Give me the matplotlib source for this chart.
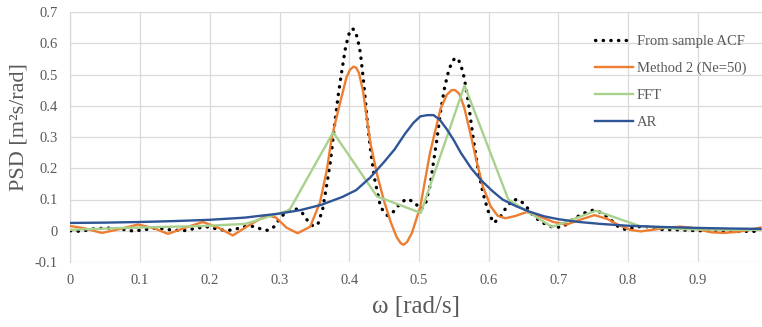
import matplotlib
matplotlib.use('Agg')
import matplotlib.pyplot as plt
import numpy as np

plt.rcParams['font.family'] = ['Liberation Serif', 'DejaVu Serif']

# From sample ACF (black dotted)
acf_w = [0.000, 0.015, 0.033, 0.052, 0.071, 0.090, 0.105, 0.124, 0.143, 0.162,
         0.176, 0.195, 0.210, 0.224, 0.238, 0.252, 0.264, 0.275, 0.284, 0.293,
         0.302, 0.314, 0.323, 0.333, 0.341, 0.348, 0.355, 0.362, 0.368, 0.373,
         0.378, 0.384, 0.390, 0.395, 0.400, 0.404, 0.408, 0.412, 0.416, 0.421,
         0.426, 0.431, 0.437, 0.445, 0.455, 0.464, 0.474, 0.483, 0.493, 0.503,
         0.510, 0.516, 0.521, 0.526, 0.531, 0.537, 0.543, 0.548, 0.552, 0.556,
         0.560, 0.565, 0.571, 0.578, 0.585, 0.592, 0.599, 0.607, 0.615, 0.624,
         0.635, 0.645, 0.655, 0.665, 0.678, 0.693, 0.707, 0.720, 0.735, 0.750,
         0.762, 0.773, 0.785, 0.797, 0.812, 0.827, 0.845, 0.870, 0.900, 0.930,
         0.960, 0.990]
acf_s = [0.000, -0.002, 0.006, 0.009, 0.006, -0.001, 0.003, 0.009, 0.003, 0.000,
         0.006, 0.013, 0.006, 0.000, 0.006, 0.014, 0.014, 0.004, 0.001, 0.014,
         0.045, 0.065, 0.071, 0.056, 0.030, 0.015, 0.020, 0.070, 0.150, 0.220,
         0.320, 0.430, 0.520, 0.590, 0.632, 0.647, 0.642, 0.615, 0.570, 0.470,
         0.350, 0.250, 0.160, 0.075, 0.048, 0.062, 0.090, 0.102, 0.092, 0.068,
         0.090, 0.145, 0.220, 0.295, 0.380, 0.460, 0.515, 0.542, 0.553, 0.550,
         0.532, 0.490, 0.410, 0.295, 0.195, 0.120, 0.065, 0.025, 0.038, 0.070,
         0.100, 0.098, 0.075, 0.045, 0.025, 0.010, 0.013, 0.035, 0.055, 0.066,
         0.058, 0.040, 0.015, 0.003, 0.013, 0.013, 0.004, 0.003, 0.000, 0.001,
         -0.002, -0.002]

# Method 2 (Ne=50)
m2_w = [0.000, 0.020, 0.045, 0.070, 0.097, 0.120, 0.140, 0.165, 0.190, 0.212,
        0.233, 0.258, 0.282, 0.295, 0.310, 0.326, 0.344, 0.358, 0.368, 0.375,
        0.387, 0.396, 0.401, 0.406, 0.410, 0.414, 0.420, 0.425, 0.430, 0.440,
        0.450, 0.460, 0.468, 0.474, 0.478, 0.483, 0.490, 0.502, 0.516, 0.531,
        0.540, 0.547, 0.552, 0.558, 0.565, 0.574, 0.583, 0.592, 0.603, 0.613,
        0.624, 0.638, 0.655, 0.674, 0.693, 0.712, 0.731, 0.752, 0.770, 0.785,
        0.803, 0.818, 0.835, 0.856, 0.875, 0.890, 0.905, 0.920, 0.937, 0.955,
        0.970, 0.990]
m2_s = [0.015, 0.008, -0.007, 0.005, 0.020, 0.008, -0.010, 0.010, 0.028, 0.010,
        -0.015, 0.020, 0.050, 0.042, 0.010, -0.008, 0.013, 0.090, 0.195, 0.300,
        0.410, 0.490, 0.515, 0.525, 0.522, 0.505, 0.445, 0.365, 0.285, 0.180,
        0.095, 0.025, -0.020, -0.040, -0.045, -0.036, -0.007, 0.077, 0.250, 0.390,
        0.435, 0.450, 0.450, 0.438, 0.395, 0.310, 0.220, 0.140, 0.078, 0.048,
        0.040, 0.047, 0.060, 0.045, 0.028, 0.020, 0.035, 0.050, 0.038, 0.020,
        0.003, -0.002, 0.003, 0.010, 0.013, 0.010, 0.002, -0.005, -0.007, -0.004,
        0.001, 0.010]

# FFT
fft_w = [0.0000, 0.0628, 0.1257, 0.1885, 0.2513, 0.3142, 0.3770, 0.4398,
         0.5027, 0.5655, 0.6283, 0.6912, 0.7540, 0.8168, 0.8796, 0.9425, 0.99]
fft_s = [0.003, 0.008, 0.012, 0.015, 0.022, 0.066, 0.315, 0.110,
         0.057, 0.465, 0.100, 0.012, 0.064, 0.015, 0.005, 0.003, 0.003]

# AR
ar_w = [0.000, 0.050, 0.100, 0.150, 0.200, 0.250, 0.300, 0.330, 0.360, 0.390,
        0.410, 0.430, 0.450, 0.465, 0.480, 0.492, 0.502, 0.512, 0.521, 0.530,
        0.540, 0.550, 0.560, 0.575, 0.590, 0.605, 0.620, 0.640, 0.660, 0.680,
        0.700, 0.730, 0.760, 0.800, 0.850, 0.900, 0.950, 0.990]
ar_s = [0.025, 0.026, 0.028, 0.031, 0.035, 0.042, 0.055, 0.066, 0.083, 0.108,
        0.130, 0.170, 0.220, 0.260, 0.310, 0.345, 0.366, 0.370, 0.370, 0.355,
        0.325, 0.290, 0.250, 0.200, 0.160, 0.128, 0.100, 0.078, 0.060, 0.046,
        0.037, 0.028, 0.022, 0.016, 0.012, 0.009, 0.007, 0.006]

x_ticks = [0, 0.1, 0.2, 0.3, 0.4, 0.5, 0.6, 0.7, 0.8, 0.9]
y_ticks = [-0.1, 0, 0.1, 0.2, 0.3, 0.4, 0.5, 0.6, 0.7]

fig = plt.figure(figsize=(7.62, 3.27), dpi=100)
ax = fig.add_axes([70.4 / 762, (327 - 262) / 327, 1 - 70.4 / 762, 250 / 327])

ax.plot(acf_w, acf_s, color='black', lw=2.4, linestyle=(0, (0.1, 2.2)),
        dash_capstyle='round', label='From sample ACF', zorder=3)
ax.plot(m2_w, m2_s, color='#ED7D31', lw=1.7, label='Method 2 (Ne=50)', zorder=3)
ax.plot(fft_w, fft_s, color='#A9D18E', lw=1.7, label='FFT', zorder=3)
ax.plot(ar_w, ar_s, color='#2F5597', lw=1.7, label='AR', zorder=4)

ax.set_xlim(0, (762 - 70.4) / 697)
ax.set_ylim(-0.1, 0.7)
ax.set_xticks(x_ticks)
ax.set_xticklabels(['0', '0.1', '0.2', '0.3', '0.4', '0.5', '0.6', '0.7', '0.8', '0.9'])
ax.set_yticks(y_ticks)
ax.set_yticklabels(['-0.1', '0', '0.1', '0.2', '0.3', '0.4', '0.5', '0.6', '0.7'])
ax.tick_params(length=0, labelsize=10.5, labelcolor='#595959', pad=9)
ax.grid(True, color='#D9D9D9', lw=0.9)
ax.set_axisbelow(True)
for s in ['top', 'right', 'bottom']:
    ax.spines[s].set_visible(False)
ax.spines['left'].set_color('#D9D9D9')
ax.spines['left'].set_linewidth(0.9)

ax.set_xlabel('ω [rad/s]', fontsize=18, color='#595959', labelpad=6)
ax.set_ylabel('PSD [m²s/rad]', fontsize=16, color='#595959')
ax.yaxis.set_label_coords(-0.061, 0.54)

leg = ax.legend(loc='upper left', bbox_to_anchor=(0.758, 0.91), frameon=False,
                fontsize=10.5, handlelength=2.6, handletextpad=0.3,
                labelspacing=0.95, borderpad=0, borderaxespad=0)
for t in leg.get_texts():
    t.set_color('#595959')

fig.savefig('out.png', dpi=100)
